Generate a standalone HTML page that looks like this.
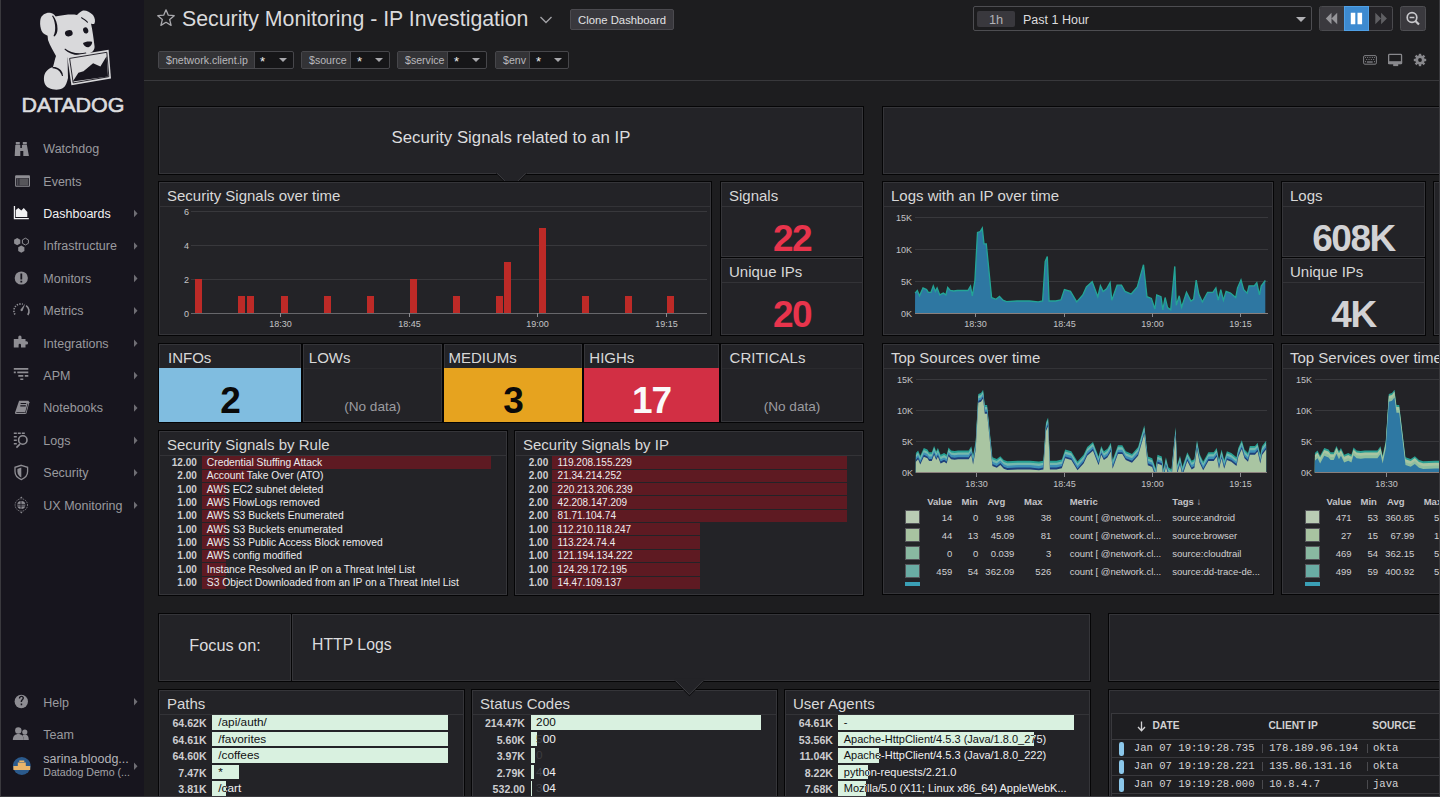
<!DOCTYPE html>
<html><head><meta charset="utf-8">
<style>
*{box-sizing:border-box;margin:0;padding:0}
html,body{width:1440px;height:797px;overflow:hidden;background:#1d1d1f;font-family:"Liberation Sans",sans-serif;color:#d4d4d4}
.a{position:absolute}
#side{position:absolute;left:0;top:0;width:144px;height:797px;background:#17151e;border-left:1px solid #3a393e}
.nav{position:absolute;left:42.3px;font-size:12.5px;line-height:1;color:#9a9a9e;white-space:nowrap}
.nav.on{color:#f2f2f2}
.arr{position:absolute;left:134px;width:0;height:0;border-left:4px solid #6f6e74;border-top:4px solid transparent;border-bottom:4px solid transparent}
.ico{position:absolute;left:14px;width:16px;height:16px}
.w{position:absolute;background:#232327;border:1px solid #050506;box-shadow:inset 0 0 0 1px #353539;overflow:hidden}
.t{position:absolute;left:8px;top:5.6px;font-size:15px;line-height:1;color:#d8d8d8;white-space:nowrap}
.sep{position:absolute;left:1px;right:1px;height:1px;background:#333337}
.hdrline{position:absolute;left:144px;top:80px;width:1296px;height:1px;background:#38383b}
.tv{position:absolute;top:51px;height:18px;border:1px solid #47474b;border-radius:2px;background:#161618;font-size:10.5px;white-space:nowrap}
.tv .l{position:absolute;left:0;top:0;bottom:0;background:#333336;font-size:10.6px;color:#b8b8bc;padding:0 7px;line-height:16px;border-right:1px solid #47474b}
.tv .v{position:absolute;top:2px;line-height:16px;font-size:13px;color:#f0f0f0}
.tv .c{position:absolute;top:6px;width:0;height:0;border-top:4px solid #a8a8ac;border-left:4px solid transparent;border-right:4px solid transparent}
.qv{position:absolute;left:0;right:0;text-align:center;font-size:37px;font-weight:bold;line-height:1;letter-spacing:-1.5px}
.fill{position:absolute;left:0;right:0;top:24px;bottom:0;text-align:center;font-size:37px;font-weight:bold;line-height:65px;letter-spacing:-1px}
.nod{position:absolute;left:0;right:0;top:56px;text-align:center;font-size:13.6px;line-height:1;color:#9c9ca0}
.lg{position:absolute;font-size:9.5px;line-height:1;color:#d0d0d2;white-space:nowrap}
.lg.b{font-weight:bold;color:#c4c4c8}
.tr{position:absolute;height:12.4px;background:#5e1a22}
.tvv{position:absolute;font-size:10px;font-weight:bold;line-height:1;color:#cfcfd2;white-space:nowrap}
.tl{position:absolute;font-size:10.3px;line-height:1;color:#ececee;white-space:nowrap}
.bb{position:absolute;height:14.6px;background:#d9f1e0;overflow:hidden}
.bv{position:absolute;font-size:10.6px;font-weight:bold;line-height:1;color:#cdcdd0;white-space:nowrap}
.bt{position:absolute;font-size:11.8px;line-height:1;color:#f0f0f2;white-space:nowrap}
.bt.k{color:#101012}
.lh{position:absolute;font-size:10.2px;font-weight:bold;line-height:1;color:#d2d2d4;white-space:nowrap}
.lm{position:absolute;font-family:"Liberation Mono",monospace;font-size:10.6px;line-height:1;color:#d4d4d6;white-space:nowrap}
</style></head>
<body>
<div id="side">
<svg class="a" style="left:0;top:0" width="144" height="797" viewBox="0 0 144 797">
 <g fill="#d9d9db">
  <!-- dog logo -->
  <path d="M46 28 C45 22 50 17 57 16 C63 15 70 14 76 15 C78 13 80 11 82 10.5 C85 10 89 12 92 15 C94 18 94.5 21 93.5 23.5 C92.5 24.5 91 24 90 23.5 C91.5 30 92.5 38 93.5 46 C94 49 92 52 89 53 L84 55 C80 56 75 57 71 57 L66.5 57.5 L67 78 C66 82 65 86 62 88 C58 90.5 52 90 48 88 C44 86 42.5 82 43 77 C43.5 73 46 69 52 67 C53 64 53.5 60 55 56 C53 52 49 46 47 40 C46.5 36 46.3 32 46 28 Z"/>
  <path d="M39.5 19 C41 14 46 12 50 13 C54 14 56 18 56.5 23 C57 28 56 33 53 35.5 C50 37 45 36 42 33 C39.5 30 38.5 24 39.5 19 Z"/>
 </g>
 <g fill="#17151e">
  <path d="M52 15.5 C55 19 56.5 24 56.5 29 C56.5 32 55.5 35 53.5 36.5 L52.5 36 C54 33 54.5 29 54 25 C53.5 21 52.5 18 51 16 Z"/>
  <path d="M80.5 17 C83 18.5 85 20 87 22 L86.5 23 C84.5 21 82.5 19.5 80 18 Z"/>
  <ellipse cx="67.8" cy="33.2" rx="3.9" ry="3.1" transform="rotate(-12 67.8 33.2)"/>
  <ellipse cx="84.7" cy="30.4" rx="2.5" ry="3.2" transform="rotate(-20 84.7 30.4)"/>
  <path d="M82 43 C84 41.5 88 41 91 41.8 C91.5 43.5 90 46.5 87.5 47.2 C85 47.5 82.5 45.5 82 43 Z"/>
  <path d="M64 48.5 C69 52.5 77 54.5 85 52.5 L85.5 53.8 C77 56.5 68.5 54.5 63.5 49.5 Z"/>
  <path d="M51.5 67 C56 66.5 60 69 61.5 73 L62 76 L61 76 C59.5 71.5 56.5 68.5 51.5 68.3 Z"/>
 </g>
 <g fill="#d9d9db">
  <path d="M66.2 56.6 L107.6 49.8 L110 78.6 L70.4 85.2 Z"/>
 </g>
 <path d="M68.6 58.4 L105.8 52.3 L107.8 76.7 L72.2 82.9 Z" fill="none" stroke="#17151e" stroke-width="0.9"/>
 <path d="M71.8 81.6 L77.4 72.8 L82.5 71.3 L92.1 63.2 L99.4 66.6 L105.6 56.2 L107 76.5 Z" fill="#17151e"/>
 <text x="72" y="112" text-anchor="middle" font-family="Liberation Sans" font-size="21" fill="#dcdcde" stroke="#dcdcde" stroke-width="0.6" textLength="103" lengthAdjust="spacingAndGlyphs">DATADOG</text>
 <g transform="translate(-1.2 0)">
<g fill="#8e8d93">
  <!-- binoculars -->
  <path d="M16 142 h4 v2.5 h-4z M23 142 h4 v2.5 h-4z M15.5 145 h5 v3 h1.6 v-3 h5 l2 11 h-5.6 v-5 h-3 v5 h-5.6z"/>
  <!-- events -->
  <rect x="15.3" y="175.3" width="14.9" height="11.4" rx="1"/>
  <rect x="16.4" y="178.2" width="12.8" height="7.5" fill="#17151e"/>
  <rect x="19.5" y="178.5" width="9.1" height="7" fill="#56555a"/>
  <rect x="17.5" y="178.5" width="1.1" height="7" fill="#6a696e"/>
  <!-- infra -->
  <path d="M17.4 238 l3.1 1.8 v3.6 l-3.1 1.8 l-3.1 -1.8 v-3.6z"/>
  <path d="M21.5 245.5 l3.1 1.8 v3.6 l-3.1 1.8 l-3.1 -1.8 v-3.6z"/>
  <path d="M25.6 238.2 l3 1.7 v3.4 l-3 1.7 l-3 -1.7 v-3.4z" fill="none" stroke="#8e8d93" stroke-width="1"/>
  <!-- monitors -->
  <circle cx="21.5" cy="278" r="6.6"/>
  <!-- integrations puzzle -->
  <path d="M14 339 h4.5 v-2 a1.6 1.6 0 0 1 3.2 0 v2 h4 v2.3 h1 a1.6 1.6 0 0 1 0 3.2 h-1 v3 h-4.5 v-2.5 a1.2 1.2 0 0 0 -2.4 0 v2.5 h-4.8z"/>
  <!-- apm -->
  <path d="M14 368 h14.5 v1.8 h-14.5z M14 371.5 h2 v1.8 h-2z M17.5 371.5 h11 v1.8 h-11z M18.5 375 h5 v1.8 h-5z M25 375 h3.5 v1.8 h-3.5z M20.5 378.5 h3 v1.6 h-3z"/>
  <!-- notebooks -->
  <path d="M19.3 400.8 h9.3 l1 1.5 l-3 11.2 l-0.8 0.6 h-10 l-0.7 -1.2z"/>
  <path d="M20.8 403 h5.6 v0.9 h-5.6z M20.5 405.2 h5.5 v1.2 h-5.5z M16.7 412.2 h8.5 l-0.3 0.9 h-8.5z M27.8 403.5 l0.6 0.2 l-2.6 9.6 l-0.6 -0.2z" fill="#17151e"/>
  <!-- logs -->
  <path d="M14 432.5 h3 v1.5 h-3z M18 432.5 h3 v1.5 h-3z M22 432.5 h3 v1.5 h-3z M14 436 h3 v1.5 h-3z M14 439.5 h3 v1.5 h-3z M14 443 h3 v1.5 h-3z"/>
  <circle cx="23" cy="440" r="4.2" fill="none" stroke="#8e8d93" stroke-width="1.6"/>
  <path d="M19.5 443.5 l1.2 1.2 l-3.5 3.5 l-1.2 -1.2z"/>
  <!-- security shield -->
  <path d="M21.5 465.3 l6.3 2 v4.3 c0 3.9 -2.8 6.6 -6.3 8 c-3.5 -1.4 -6.3 -4.1 -6.3 -8 v-4.3z" fill="none" stroke="#8e8d93" stroke-width="1.3"/>
  <path d="M21.5 467.6 v10 c-2.3 -1.2 -3.9 -3.3 -3.9 -6 v-2.6z"/>
  <!-- ux -->
  <circle cx="21.5" cy="505" r="4" />
  <path d="M17.5 504.4 h8 M17.5 506 h8 M21.2 501 v8" stroke="#17151e" stroke-width="0.8"/>
  <circle cx="21.5" cy="505" r="6.2" fill="none" stroke="#8e8d93" stroke-width="1" stroke-dasharray="1.2 1.1"/>
  <path d="M20.3 498 l1.2 -1.5 l1.2 1.5z M20.3 512 l1.2 1.5 l1.2 -1.5z"/>
  <!-- help -->
  <circle cx="21.5" cy="701.5" r="6.7"/>
  <!-- team -->
  <circle cx="18.5" cy="730.5" r="3.2"/>
  <path d="M13 740 c0 -4 2.5 -6 5.5 -6 s5.5 2 5.5 6z"/>
  <circle cx="25" cy="732" r="2.6"/>
  <path d="M24 740 c0 -2 -0.5 -3.6 -1.5 -4.6 c0.8 -0.6 1.6 -0.9 2.5 -0.9 c2.4 0 4 1.6 4 5.5z"/>
 </g>
 <g fill="#f0f0f2">
  <path d="M14 206 h1.3 v12 h13.7 v1.3 h-15z M16 217 v-7 l2.5 -2 l3 2.5 l2.5 -2.5 l3.5 4 v5z"/>
 </g>
 <g fill="#17151e">
  <path d="M20.6 273.5 h1.8 v6 h-1.8z M20.6 280.8 h1.8 v1.8 h-1.8z"/>
  <path d="M19 698.5 c0 -1.8 1.2 -2.8 2.6 -2.8 c1.6 0 2.6 1 2.6 2.4 c0 1.8 -2 2 -2 3.8 h-1.4 c0 -2.4 2 -2.6 2 -3.8 c0 -0.7 -0.5 -1.2 -1.2 -1.2 c-0.8 0 -1.2 0.6 -1.2 1.6z M20.9 703.6 h1.5 v1.6 h-1.5z"/>
 </g>
 <!-- metrics gauge -->
 <path d="M15.2 314.5 A6.8 6.8 0 0 1 23 304.3" fill="none" stroke="#8e8d93" stroke-width="1.6" stroke-dasharray="1.4 1.2"/>
 <path d="M26.3 305.6 A6.8 6.8 0 0 1 28 315" fill="none" stroke="#8e8d93" stroke-width="1.6"/>
 <path d="M25.5 303.5 L22.8 310.8 A1.3 1.3 0 0 1 20.6 309.8z" fill="#8e8d93"/>
 <!-- avatar -->
 <circle cx="22" cy="766" r="8.9" fill="#2b5a8c"/>
 <path d="M13.6 766 h16.8 v4 h-16.8z" fill="#e9b56a"/>
 <path d="M19.5 760.5 h5 v1.5 h-5z M18 762.5 h8 v3.5 h-8z" fill="#e9b56a"/>
 </g>
 <!-- arrows -->
 <g fill="#6f6e74">
  <path d="M133 209.7 l3.5 3.8 l-3.5 3.8z"/>
  <path d="M133 242.2 l3.5 3.8 l-3.5 3.8z"/>
  <path d="M133 274.6 l3.5 3.8 l-3.5 3.8z"/>
  <path d="M133 307 l3.5 3.8 l-3.5 3.8z"/>
  <path d="M133 339.4 l3.5 3.8 l-3.5 3.8z"/>
  <path d="M133 371.8 l3.5 3.8 l-3.5 3.8z"/>
  <path d="M133 404.2 l3.5 3.8 l-3.5 3.8z"/>
  <path d="M133 436.6 l3.5 3.8 l-3.5 3.8z"/>
  <path d="M133 469 l3.5 3.8 l-3.5 3.8z"/>
  <path d="M133 501.4 l3.5 3.8 l-3.5 3.8z"/>
  <path d="M133 698 l3.5 3.8 l-3.5 3.8z"/>
  <path d="M133 762.5 l3.5 3.8 l-3.5 3.8z"/>
 </g>
</svg>
<div class="nav" style="top:143px">Watchdog</div>
<div class="nav" style="top:175.5px">Events</div>
<div class="nav on" style="top:207.5px">Dashboards</div>
<div class="nav" style="top:240px">Infrastructure</div>
<div class="nav" style="top:272.5px">Monitors</div>
<div class="nav" style="top:305px">Metrics</div>
<div class="nav" style="top:337.5px">Integrations</div>
<div class="nav" style="top:370px">APM</div>
<div class="nav" style="top:402px">Notebooks</div>
<div class="nav" style="top:434.5px">Logs</div>
<div class="nav" style="top:467px">Security</div>
<div class="nav" style="top:499.5px">UX Monitoring</div>
<div class="nav" style="top:697px">Help</div>
<div class="nav" style="top:728.5px">Team</div>
<div class="nav" style="top:753px;color:#b4b4b8">sarina.bloodg...</div>
<div class="nav" style="top:766.5px;font-size:10.6px;color:#a4a4a8">Datadog Demo (...</div>
</div>

<div class="hdrline"></div>
<!-- header -->
<svg class="a" style="left:156px;top:8px" width="20" height="20" viewBox="0 0 20 20"><path d="M10 1.8 L12.3 7.2 L18.2 7.7 L13.7 11.6 L15.1 17.4 L10 14.3 L4.9 17.4 L6.3 11.6 L1.8 7.7 L7.7 7.2 Z" fill="none" stroke="#a9a9ad" stroke-width="1.3" stroke-linejoin="round"/></svg>
<div class="a" style="left:182px;top:8.5px;font-size:21.3px;line-height:1;color:#dadadc;white-space:nowrap">Security Monitoring - IP Investigation</div>
<svg class="a" style="left:539px;top:15px" width="14" height="10" viewBox="0 0 14 10"><path d="M1.5 2 L7 7.5 L12.5 2" fill="none" stroke="#a0a0a4" stroke-width="1.4"/></svg>
<div class="a" style="left:570px;top:9px;width:104px;height:21px;background:#39383d;border:1px solid #4b4a4f;border-radius:2px;font-size:11.3px;line-height:21px;text-align:center;color:#e2e2e4">Clone Dashboard</div>
<div class="tv" style="left:158px;width:136px"><div class="l" style="width:96px">$network.client.ip</div><div class="v" style="left:101px">*</div><div class="c" style="left:120px"></div></div>
<div class="tv" style="left:301px;width:89px"><div class="l" style="width:49px">$source</div><div class="v" style="left:55px">*</div><div class="c" style="left:73px"></div></div>
<div class="tv" style="left:397px;width:90px"><div class="l" style="width:50px">$service</div><div class="v" style="left:56px">*</div><div class="c" style="left:74px"></div></div>
<div class="tv" style="left:495px;width:74px"><div class="l" style="width:34px">$env</div><div class="v" style="left:40px">*</div><div class="c" style="left:58px"></div></div>
<!-- time selector -->
<div class="a" style="left:973px;top:6px;width:339px;height:25px;border:1px solid #4d4d51;border-radius:2px;background:#1c1c1e"></div>
<div class="a" style="left:977px;top:10.5px;width:38px;height:16.5px;background:#39383d;border-radius:2px;font-size:12.8px;line-height:17px;text-align:center;color:#b2b2b6">1h</div>
<div class="a" style="left:1023px;top:14px;font-size:12.5px;line-height:1;color:#dcdcde;white-space:nowrap">Past 1 Hour</div>
<div class="a" style="left:1296px;top:17px;width:0;height:0;border-top:5px solid #b0b0b4;border-left:5px solid transparent;border-right:5px solid transparent"></div>
<div class="a" style="left:1319px;top:6px;width:74px;height:25px;border:1px solid #4a4a4e;border-radius:2.5px;background:#242327;overflow:hidden"><div class="a" style="left:0;top:0;width:24px;height:23px;background:#3a393e"></div></div>
<div class="a" style="left:1344px;top:6px;width:25px;height:25px;background:#3d8ad0;border:1px solid #4fa0e6"></div>
<svg class="a" style="left:1319px;top:6px" width="74" height="25" viewBox="0 0 74 25">
 <path d="M6.8 12.5 L12.5 6.8 V18.2z M12.5 12.5 L18.2 6.8 V18.2z" fill="#959599"/>
 <path d="M31.8 6.8 h4.5 v11.4 h-4.5z M38.5 6.8 h4.6 v11.4 h-4.6z" fill="#ffffff"/>
 <path d="M56.3 6.8 L62.1 12.5 L56.3 18.2z M62.1 6.8 L67.9 12.5 L62.1 18.2z" fill="#5f5f63"/>
</svg>
<div class="a" style="left:1400px;top:6px;width:26px;height:25px;border:1px solid #4e4e52;border-radius:2.5px;background:#3a393e"></div>
<svg class="a" style="left:1400px;top:6px" width="26" height="25" viewBox="0 0 26 25"><circle cx="12" cy="11.5" r="4.8" fill="none" stroke="#c8c8cc" stroke-width="1.7"/><path d="M9.6 11.5 h4.8" stroke="#c8c8cc" stroke-width="1.5"/><path d="M15.5 15 l3.5 3.5" stroke="#c8c8cc" stroke-width="2.2"/></svg>
<svg class="a" style="left:1360px;top:50px" width="70" height="20" viewBox="0 0 70 20">
 <rect x="3.6" y="5.6" width="12.8" height="8.6" rx="1.3" fill="none" stroke="#7f7f83" stroke-width="1"/>
 <g fill="#6f6f73"><rect x="5" y="7" width="1" height="1"/><rect x="7" y="7" width="1.2" height="1"/><rect x="9.4" y="7" width="1.2" height="1"/><rect x="11.8" y="7" width="1.2" height="1"/><rect x="14" y="7" width="1" height="1"/>
 <rect x="6" y="9" width="1.2" height="1"/><rect x="8.4" y="9" width="1.2" height="1"/><rect x="10.8" y="9" width="1.2" height="1"/><rect x="13" y="9" width="1.2" height="1"/>
 <rect x="5" y="11" width="1" height="1.2"/><rect x="14" y="11" width="1" height="1.2"/><rect x="6.9" y="11.2" width="5.8" height="1.6"/></g>
 <rect x="28.65" y="4.45" width="12.9" height="9.2" rx="0.8" fill="none" stroke="#88888c" stroke-width="1.3"/>
 <rect x="28" y="11.2" width="14.1" height="2.9" fill="#88888c"/>
 <rect x="33.2" y="14" width="5" height="2.1" fill="#88888c"/>
 <g transform="translate(60 10)" fill="#88888c"><circle r="4.7"/><rect x="-1.2" y="-6.2" width="2.4" height="3" transform="rotate(0)"/><rect x="-1.2" y="-6.2" width="2.4" height="3" transform="rotate(45)"/><rect x="-1.2" y="-6.2" width="2.4" height="3" transform="rotate(90)"/><rect x="-1.2" y="-6.2" width="2.4" height="3" transform="rotate(135)"/><rect x="-1.2" y="-6.2" width="2.4" height="3" transform="rotate(180)"/><rect x="-1.2" y="-6.2" width="2.4" height="3" transform="rotate(225)"/><rect x="-1.2" y="-6.2" width="2.4" height="3" transform="rotate(270)"/><rect x="-1.2" y="-6.2" width="2.4" height="3" transform="rotate(315)"/><circle r="1.9" fill="#1d1d1f"/></g>
</svg>

<!-- ROW 1 notes -->
<div class="w" style="left:158px;top:106px;width:706px;height:69px"><div class="a" style="left:0;right:0;top:23px;text-align:center;font-size:16.8px;line-height:1;color:#dcdcde">Security Signals related to an IP</div></div>
<div class="w" style="left:882px;top:106px;width:600px;height:69px"></div>
<svg class="a" style="left:490px;top:165px" width="45" height="30" viewBox="0 0 45 30"><path d="M6.7 8.2 L21.45 23 L36.2 8.2" fill="none" stroke="#0d0d0f" stroke-width="1.8"/><path d="M6.2 6 L36.7 6 L36.7 8.2 L21.45 23.2 L6.2 8.2z" fill="#232327"/><path d="M7.2 8.2 L21.45 22.5 L35.7 8.2" fill="none" stroke="#3a3a3e" stroke-width="1"/></svg>
<!-- Security Signals over time -->
<div class="w" style="left:158px;top:181px;width:554px;height:155px"><div class="t">Security Signals over time</div><div class="sep" style="top:24px"></div></div>
<div class="w" style="left:720px;top:181px;width:144px;height:77px"><div class="t">Signals</div><div class="sep" style="top:24px"></div><div class="qv" style="top:38px;color:#e8344c">22</div></div>
<div class="w" style="left:720px;top:257px;width:144px;height:79px"><div class="t">Unique IPs</div><div class="sep" style="top:24px"></div><div class="qv" style="top:38px;color:#e8344c">20</div></div>
<!-- severity row -->
<div class="w" style="left:158px;top:343px;width:144px;height:80px"><div class="t" style="left:9px">INFOs</div><div class="fill" style="background:#80bde0;color:#0a0a0a">2</div></div>
<div class="w" style="left:302px;top:343px;width:141px;height:80px"><div class="t" style="left:5.8px">LOWs</div><div class="sep" style="top:24px;background:#2a2a2e"></div><div class="nod">(No data)</div></div>
<div class="w" style="left:443px;top:343px;width:140px;height:80px"><div class="t" style="left:4.4px">MEDIUMs</div><div class="fill" style="background:#e6a31f;color:#0a0a0a">3</div></div>
<div class="w" style="left:583px;top:343px;width:137px;height:80px"><div class="t" style="left:5.3px">HIGHs</div><div class="fill" style="background:#d22f44;color:#fafafa">17</div></div>
<div class="w" style="left:720px;top:343px;width:144px;height:80px"><div class="t" style="left:8.6px">CRITICALs</div><div class="sep" style="top:24px;background:#2a2a2e"></div><div class="nod">(No data)</div></div>
<!-- toplists -->
<div class="w" style="left:158px;top:430px;width:350px;height:166px" id="rule"><div class="t">Security Signals by Rule</div><div class="sep" style="top:24px"></div></div>
<div class="w" style="left:514px;top:430px;width:350px;height:166px" id="ip"><div class="t">Security Signals by IP</div><div class="sep" style="top:24px"></div></div>
<!-- right column -->
<div class="w" style="left:882px;top:181px;width:392px;height:155px"><div class="t">Logs with an IP over time</div><div class="sep" style="top:24px"></div></div>
<div class="w" style="left:1281px;top:181px;width:145px;height:77px"><div class="t">Logs</div><div class="sep" style="top:24px"></div><div class="qv" style="top:38px;color:#d2d2d4">608K</div></div>
<div class="w" style="left:1281px;top:257px;width:145px;height:79px"><div class="t">Unique IPs</div><div class="sep" style="top:24px"></div><div class="qv" style="top:38px;color:#d2d2d4">4K</div></div>
<div class="w" style="left:1433px;top:181px;width:60px;height:155px"></div>
<div class="w" style="left:882px;top:343px;width:392px;height:252px"><div class="t">Top Sources over time</div><div class="sep" style="top:24px"></div></div>
<div class="w" style="left:1281px;top:343px;width:300px;height:252px"><div class="t">Top Services over time</div><div class="sep" style="top:24px"></div></div>
<!-- Row 5 -->
<div class="w" style="left:158px;top:613px;width:134px;height:69px"><div class="a" style="left:0;right:0;top:22.8px;text-align:center;font-size:16.3px;line-height:1;color:#dcdcde">Focus on:</div></div>
<div class="w" style="left:291px;top:613px;width:800px;height:69px"><div class="a" style="left:20px;top:22.8px;font-size:15.8px;line-height:1;color:#dcdcde">HTTP Logs</div></div>
<div class="w" style="left:1108px;top:613px;width:340px;height:69px"></div>

<div class="w" style="left:158px;top:689px;width:307px;height:130px" id="paths"><div class="t">Paths</div><div class="sep" style="top:24px"></div></div>
<div class="w" style="left:471px;top:689px;width:307px;height:130px" id="codes"><div class="t">Status Codes</div><div class="sep" style="top:24px"></div></div>
<svg class="a" style="left:670px;top:672px" width="40" height="30" viewBox="0 0 40 30"><path d="M5.1 8.6 L19.4 22.9 L33.7 8.6" fill="none" stroke="#0d0d0f" stroke-width="1.8"/><path d="M4.6 6.5 L34.2 6.5 L34.2 8.6 L19.4 23.2 L4.6 8.6z" fill="#232327"/><path d="M5.6 8.6 L19.4 22.4 L33.2 8.6" fill="none" stroke="#3a3a3e" stroke-width="1"/></svg>
<div class="w" style="left:784px;top:689px;width:307px;height:130px" id="ua"><div class="t">User Agents</div><div class="sep" style="top:24px"></div></div>
<div class="w" style="left:1108px;top:689px;width:340px;height:130px" id="logs"></div>

<!--TOPLISTS-->
<div class="tr" style="left:202px;top:456.2px;width:289.0px"></div>
<div class="tvv" style="right:1243.2px;top:457.8px">12.00</div>
<div class="tl" style="left:206.8px;top:457.8px">Credential Stuffing Attack</div>
<div class="tr" style="left:202px;top:469.6px;width:48.2px"></div>
<div class="tvv" style="right:1243.2px;top:471.2px">2.00</div>
<div class="tl" style="left:206.8px;top:471.2px">Account Take Over (ATO)</div>
<div class="tr" style="left:202px;top:482.9px;width:24.1px"></div>
<div class="tvv" style="right:1243.2px;top:484.5px">1.00</div>
<div class="tl" style="left:206.8px;top:484.5px">AWS EC2 subnet deleted</div>
<div class="tr" style="left:202px;top:496.3px;width:24.1px"></div>
<div class="tvv" style="right:1243.2px;top:497.9px">1.00</div>
<div class="tl" style="left:206.8px;top:497.9px">AWS FlowLogs removed</div>
<div class="tr" style="left:202px;top:509.7px;width:24.1px"></div>
<div class="tvv" style="right:1243.2px;top:511.3px">1.00</div>
<div class="tl" style="left:206.8px;top:511.3px">AWS S3 Buckets Enumerated</div>
<div class="tr" style="left:202px;top:523.0px;width:24.1px"></div>
<div class="tvv" style="right:1243.2px;top:524.6px">1.00</div>
<div class="tl" style="left:206.8px;top:524.6px">AWS S3 Buckets enumerated</div>
<div class="tr" style="left:202px;top:536.4px;width:24.1px"></div>
<div class="tvv" style="right:1243.2px;top:538.0px">1.00</div>
<div class="tl" style="left:206.8px;top:538.0px">AWS S3 Public Access Block removed</div>
<div class="tr" style="left:202px;top:549.8px;width:24.1px"></div>
<div class="tvv" style="right:1243.2px;top:551.4px">1.00</div>
<div class="tl" style="left:206.8px;top:551.4px">AWS config modified</div>
<div class="tr" style="left:202px;top:563.2px;width:24.1px"></div>
<div class="tvv" style="right:1243.2px;top:564.8px">1.00</div>
<div class="tl" style="left:206.8px;top:564.8px">Instance Resolved an IP on a Threat Intel List</div>
<div class="tr" style="left:202px;top:576.5px;width:24.1px"></div>
<div class="tvv" style="right:1243.2px;top:578.1px">1.00</div>
<div class="tl" style="left:206.8px;top:578.1px">S3 Object Downloaded from an IP on a Threat Intel List</div>
<div class="tr" style="left:552px;top:456.2px;width:295.2px"></div>
<div class="tvv" style="right:891.8px;top:457.8px">2.00</div>
<div class="tl" style="left:557.6px;top:457.8px;font-size:10px">119.208.155.229</div>
<div class="tr" style="left:552px;top:469.6px;width:295.2px"></div>
<div class="tvv" style="right:891.8px;top:471.2px">2.00</div>
<div class="tl" style="left:557.6px;top:471.2px;font-size:10px">21.34.214.252</div>
<div class="tr" style="left:552px;top:482.9px;width:295.2px"></div>
<div class="tvv" style="right:891.8px;top:484.5px">2.00</div>
<div class="tl" style="left:557.6px;top:484.5px;font-size:10px">220.213.206.239</div>
<div class="tr" style="left:552px;top:496.3px;width:295.2px"></div>
<div class="tvv" style="right:891.8px;top:497.9px">2.00</div>
<div class="tl" style="left:557.6px;top:497.9px;font-size:10px">42.208.147.209</div>
<div class="tr" style="left:552px;top:509.7px;width:295.2px"></div>
<div class="tvv" style="right:891.8px;top:511.3px">2.00</div>
<div class="tl" style="left:557.6px;top:511.3px;font-size:10px">81.71.104.74</div>
<div class="tr" style="left:552px;top:523.0px;width:147.6px"></div>
<div class="tvv" style="right:891.8px;top:524.6px">1.00</div>
<div class="tl" style="left:557.6px;top:524.6px;font-size:10px">112.210.118.247</div>
<div class="tr" style="left:552px;top:536.4px;width:147.6px"></div>
<div class="tvv" style="right:891.8px;top:538.0px">1.00</div>
<div class="tl" style="left:557.6px;top:538.0px;font-size:10px">113.224.74.4</div>
<div class="tr" style="left:552px;top:549.8px;width:147.6px"></div>
<div class="tvv" style="right:891.8px;top:551.4px">1.00</div>
<div class="tl" style="left:557.6px;top:551.4px;font-size:10px">121.194.134.222</div>
<div class="tr" style="left:552px;top:563.2px;width:147.6px"></div>
<div class="tvv" style="right:891.8px;top:564.8px">1.00</div>
<div class="tl" style="left:557.6px;top:564.8px;font-size:10px">124.29.172.195</div>
<div class="tr" style="left:552px;top:576.5px;width:147.6px"></div>
<div class="tvv" style="right:891.8px;top:578.1px">1.00</div>
<div class="tl" style="left:557.6px;top:578.1px;font-size:10px">14.47.109.137</div>
<div class="bv" style="right:1233.4px;top:718.2px">64.62K</div>
<div class="bt" style="left:218.3px;top:717.2px">/api/auth/</div>
<div class="bb" style="left:212.1px;top:715.0px;width:235.8px"><div class="bt k" style="left:6.2px;top:2.2px">/api/auth/</div></div>
<div class="bv" style="right:1233.4px;top:734.9px">64.61K</div>
<div class="bt" style="left:218.3px;top:733.9px">/favorites</div>
<div class="bb" style="left:212.1px;top:731.7px;width:235.8px"><div class="bt k" style="left:6.2px;top:2.2px">/favorites</div></div>
<div class="bv" style="right:1233.4px;top:751.4px">64.60K</div>
<div class="bt" style="left:218.3px;top:750.4px">/coffees</div>
<div class="bb" style="left:212.1px;top:748.2px;width:235.7px"><div class="bt k" style="left:6.2px;top:2.2px">/coffees</div></div>
<div class="bv" style="right:1233.4px;top:768.0px">7.47K</div>
<div class="bt" style="left:218.3px;top:767.0px">*</div>
<div class="bb" style="left:212.1px;top:764.8px;width:27.3px"><div class="bt k" style="left:6.2px;top:2.2px">*</div></div>
<div class="bv" style="right:1233.4px;top:784.4px">3.81K</div>
<div class="bt" style="left:218.3px;top:783.4px">/cart</div>
<div class="bb" style="left:212.1px;top:781.2px;width:13.9px"><div class="bt k" style="left:6.2px;top:2.2px">/cart</div></div>
<div class="bv" style="right:915.0px;top:718.2px">214.47K</div>
<div class="bt" style="left:536.1px;top:717.2px">200</div>
<div class="bb" style="left:531px;top:715.0px;width:230.2px"><div class="bt k" style="left:5.1px;top:2.2px">200</div></div>
<div class="bv" style="right:915.0px;top:734.9px">5.60K</div>
<div class="bt" style="left:536.1px;top:733.9px"><span style="color:#3c3c40">5</span>00</div>
<div class="bb" style="left:531px;top:731.7px;width:6.0px"><div class="bt k" style="left:5.1px;top:2.2px">500</div></div>
<div class="bv" style="right:915.0px;top:751.4px">3.97K</div>
<div class="bt" style="left:536.1px;top:750.4px"><span style="color:#3c3c40">0</span></div>
<div class="bb" style="left:531px;top:748.2px;width:4.3px"><div class="bt k" style="left:5.1px;top:2.2px">0</div></div>
<div class="bv" style="right:915.0px;top:768.0px">2.79K</div>
<div class="bt" style="left:536.1px;top:767.0px"><span style="color:#3c3c40">4</span>04</div>
<div class="bb" style="left:531px;top:764.8px;width:3.0px"><div class="bt k" style="left:5.1px;top:2.2px">404</div></div>
<div class="bv" style="right:915.0px;top:784.4px">532.00</div>
<div class="bt" style="left:536.1px;top:783.4px"><span style="color:#3c3c40">3</span>04</div>
<div class="bb" style="left:531px;top:781.2px;width:1.0px"><div class="bt k" style="left:5.1px;top:2.2px">304</div></div>
<div class="bv" style="right:607.0px;top:718.2px">64.61K</div>
<div class="bt" style="font-size:11px;left:843.8px;top:717.2px">-</div>
<div class="bb" style="left:838.2px;top:715.0px;width:236.3px"><div class="bt k" style="font-size:11px;left:5.6px;top:2.2px">-</div></div>
<div class="bv" style="right:607.0px;top:734.9px">53.56K</div>
<div class="bt" style="font-size:11px;left:843.8px;top:733.9px">Apache-HttpClient/4.5.3 (Java/1.8.0_275)</div>
<div class="bb" style="left:838.2px;top:731.7px;width:195.9px"><div class="bt k" style="font-size:11px;left:5.6px;top:2.2px">Apache-HttpClient/4.5.3 (Java/1.8.0_275)</div></div>
<div class="bv" style="right:607.0px;top:751.4px">11.04K</div>
<div class="bt" style="font-size:11px;left:843.8px;top:750.4px">Apache-HttpClient/4.5.3 (Java/1.8.0_222)</div>
<div class="bb" style="left:838.2px;top:748.2px;width:40.4px"><div class="bt k" style="font-size:11px;left:5.6px;top:2.2px">Apache-HttpClient/4.5.3 (Java/1.8.0_222)</div></div>
<div class="bv" style="right:607.0px;top:768.0px">8.22K</div>
<div class="bt" style="font-size:11px;left:843.8px;top:767.0px">python-requests/2.21.0</div>
<div class="bb" style="left:838.2px;top:764.8px;width:30.1px"><div class="bt k" style="font-size:11px;left:5.6px;top:2.2px">python-requests/2.21.0</div></div>
<div class="bv" style="right:607.0px;top:784.4px">7.68K</div>
<div class="bt" style="font-size:11px;left:843.8px;top:783.4px">Mozilla/5.0 (X11; Linux x86_64) AppleWebK...</div>
<div class="bb" style="left:838.2px;top:781.2px;width:28.1px"><div class="bt k" style="font-size:11px;left:5.6px;top:2.2px">Mozilla/5.0 (X11; Linux x86_64) AppleWebK...</div></div>
<div class="a" style="left:1111px;top:713px;width:340px;height:90px;background:#1e1e21;border:1px solid #39393d"></div>
<div class="a" style="left:1112px;top:739px;width:330px;height:1px;background:#39393d"></div>
<div class="a" style="left:1112px;top:757px;width:330px;height:1px;background:#38383c"></div>
<div class="a" style="left:1112px;top:775px;width:330px;height:1px;background:#38383c"></div>
<div class="a" style="left:1112px;top:793px;width:330px;height:1px;background:#38383c"></div>
<svg class="a" style="left:1137px;top:721px" width="9" height="11" viewBox="0 0 9 11"><path d="M4.5 0.5 V9.5 M1 6 L4.5 9.7 L8 6" fill="none" stroke="#d2d2d4" stroke-width="1.3"/></svg>
<div class="lh" style="left:1152.5px;top:721.4px">DATE</div>
<div class="lh" style="left:1268.5px;top:721.4px">CLIENT IP</div>
<div class="lh" style="left:1372.3px;top:721.4px">SOURCE</div>
<div class="a" style="left:1119.4px;top:742.3px;width:4.4px;height:13.3px;border-radius:2.2px;background:#8bc7ea"></div>
<div class="lm" style="left:1133.8px;top:742.8px">Jan 07 19:19:28.735</div>
<div class="lm" style="left:1269.2px;top:742.8px">178.189.96.194</div>
<div class="lm" style="left:1373px;top:742.8px">okta</div>
<div class="a" style="left:1262px;top:743.5px;width:1px;height:9.5px;background:#4a4a4e"></div>
<div class="a" style="left:1366.5px;top:743.5px;width:1px;height:9.5px;background:#4a4a4e"></div>
<div class="a" style="left:1119.4px;top:760.3px;width:4.4px;height:13.3px;border-radius:2.2px;background:#8bc7ea"></div>
<div class="lm" style="left:1133.8px;top:760.8px">Jan 07 19:19:28.221</div>
<div class="lm" style="left:1269.2px;top:760.8px">135.86.131.16</div>
<div class="lm" style="left:1373px;top:760.8px">okta</div>
<div class="a" style="left:1262px;top:761.5px;width:1px;height:9.5px;background:#4a4a4e"></div>
<div class="a" style="left:1366.5px;top:761.5px;width:1px;height:9.5px;background:#4a4a4e"></div>
<div class="a" style="left:1119.4px;top:778.3px;width:4.4px;height:13.3px;border-radius:2.2px;background:#8bc7ea"></div>
<div class="lm" style="left:1133.8px;top:778.8px">Jan 07 19:19:28.000</div>
<div class="lm" style="left:1269.2px;top:778.8px">10.8.4.7</div>
<div class="lm" style="left:1373px;top:778.8px">java</div>
<div class="a" style="left:1262px;top:779.5px;width:1px;height:9.5px;background:#4a4a4e"></div>
<div class="a" style="left:1366.5px;top:779.5px;width:1px;height:9.5px;background:#4a4a4e"></div>
<div class="a" style="left:1119.4px;top:796px;width:4.4px;height:3px;background:#8bc7ea"></div>
<!--/TOPLISTS-->
<!--LEGEND-->
<div class="lg b" style="left:927.2px;top:497.3px">Value</div>
<div class="lg b" style="left:961.5px;top:497.3px">Min</div>
<div class="lg b" style="left:987.6px;top:497.3px">Avg</div>
<div class="lg b" style="left:1024px;top:497.3px">Max</div>
<div class="lg b" style="left:1069.7px;top:497.3px">Metric</div>
<div class="lg b" style="left:1172.3px;top:497.3px">Tags &#8595;</div>
<div class="lg" style="right:487.8px;top:513.4px">14</div>
<div class="lg" style="right:461.7px;top:513.4px">0</div>
<div class="lg" style="right:425.6px;top:513.4px">9.98</div>
<div class="lg" style="right:388.8px;top:513.4px">38</div>
<div class="lg" style="left:1069.7px;top:513.4px">count [ @network.cl...</div>
<div class="lg" style="left:1172.3px;top:513.4px">source:android</div>
<div class="lg" style="right:487.8px;top:531.4px">44</div>
<div class="lg" style="right:461.7px;top:531.4px">13</div>
<div class="lg" style="right:425.6px;top:531.4px">45.09</div>
<div class="lg" style="right:388.8px;top:531.4px">81</div>
<div class="lg" style="left:1069.7px;top:531.4px">count [ @network.cl...</div>
<div class="lg" style="left:1172.3px;top:531.4px">source:browser</div>
<div class="lg" style="right:487.8px;top:549.4px">0</div>
<div class="lg" style="right:461.7px;top:549.4px">0</div>
<div class="lg" style="right:425.6px;top:549.4px">0.039</div>
<div class="lg" style="right:388.8px;top:549.4px">3</div>
<div class="lg" style="left:1069.7px;top:549.4px">count [ @network.cl...</div>
<div class="lg" style="left:1172.3px;top:549.4px">source:cloudtrail</div>
<div class="lg" style="right:487.8px;top:567.4px">459</div>
<div class="lg" style="right:461.7px;top:567.4px">54</div>
<div class="lg" style="right:425.6px;top:567.4px">362.09</div>
<div class="lg" style="right:388.8px;top:567.4px">526</div>
<div class="lg" style="left:1069.7px;top:567.4px">count [ @network.cl...</div>
<div class="lg" style="left:1172.3px;top:567.4px">source:dd-trace-de...</div>
<div class="a" style="left:905px;top:510.4px;width:15px;height:14px;background:#b9cbb4;border:1px solid #55555a"></div>
<div class="a" style="left:905px;top:528.4px;width:15px;height:14px;background:#a8c3a1;border:1px solid #55555a"></div>
<div class="a" style="left:905px;top:546.4px;width:15px;height:14px;background:#89b8a1;border:1px solid #55555a"></div>
<div class="a" style="left:905px;top:564.4px;width:15px;height:14px;background:#6aaca4;border:1px solid #55555a"></div>
<div class="a" style="left:905px;top:582.4px;width:15px;height:3.5px;background:#3aa0b6"></div>
<div class="lg b" style="left:1326.5px;top:497.3px">Value</div>
<div class="lg b" style="left:1360.5px;top:497.3px">Min</div>
<div class="lg b" style="left:1387px;top:497.3px">Avg</div>
<div class="lg b" style="left:1423.7px;top:497.3px">Max</div>
<div class="lg" style="right:88.4px;top:513.4px">471</div>
<div class="lg" style="right:62.0px;top:513.4px">53</div>
<div class="lg" style="right:25.8px;top:513.4px">360.85</div>
<div class="lg" style="left:1434px;top:513.4px">5</div>
<div class="lg" style="right:88.4px;top:531.4px">27</div>
<div class="lg" style="right:62.0px;top:531.4px">15</div>
<div class="lg" style="right:25.8px;top:531.4px">67.99</div>
<div class="lg" style="left:1434px;top:531.4px">1</div>
<div class="lg" style="right:88.4px;top:549.4px">469</div>
<div class="lg" style="right:62.0px;top:549.4px">54</div>
<div class="lg" style="right:25.8px;top:549.4px">362.15</div>
<div class="lg" style="left:1434px;top:549.4px">5</div>
<div class="lg" style="right:88.4px;top:567.4px">499</div>
<div class="lg" style="right:62.0px;top:567.4px">59</div>
<div class="lg" style="right:25.8px;top:567.4px">400.92</div>
<div class="lg" style="left:1434px;top:567.4px">5</div>
<div class="a" style="left:1305px;top:510.4px;width:14.5px;height:14px;background:#b9cbb4;border:1px solid #55555a"></div>
<div class="a" style="left:1305px;top:528.4px;width:14.5px;height:14px;background:#a8c3a1;border:1px solid #55555a"></div>
<div class="a" style="left:1305px;top:546.4px;width:14.5px;height:14px;background:#89b8a1;border:1px solid #55555a"></div>
<div class="a" style="left:1305px;top:564.4px;width:14.5px;height:14px;background:#6aaca4;border:1px solid #55555a"></div>
<div class="a" style="left:1305px;top:582.4px;width:14.5px;height:3.5px;background:#3aa0b6"></div>
<!--/LEGEND-->
<!--CHARTS-->
<svg class="a" style="left:0;top:0;pointer-events:none" width="1440" height="797" viewBox="0 0 1440 797" font-family="Liberation Sans">
<defs>
 <path id="lp" d="M0.1 -20.3 L2.3 -22.9 L4.5 -17.6 L8 -25.5 L11.6 -23.8 L13.3 -21.1 L16 -21.1 L18.3 -27.6 L20.4 -22.0 L22.1 -25.5 L24.8 -18.5 L28.3 -20.3 L30.9 -18.5 L32.7 -25.9 L35.3 -22.9 L38.8 -22.4 L42.3 -22.9 L47.6 -22.9 L52.9 -22.9 L55.5 -27.3 L57.3 -17.6 L59.9 -32.6 L62.5 -80.9 L65.2 -81.8 L67.3 -85.3 L69 -69.5 L71.3 -69.5 L76.6 -15.9 L81 -14.1 L84.5 -17.1 L88 -13.2 L91.5 -11.8 L102 -12.4 L114.4 -12.4 L123.2 -11.5 L127.6 -12.4 L130.2 -51.9 L132.3 -56.8 L134.1 -12.4 L140.7 -12.4 L146 -13.6 L149.4 -23.8 L155.5 -22.0 L161.7 -11.5 L167.8 -18.5 L171.4 -26.4 L177.2 -31.7 L182.8 -16.7 L185.4 -27.6 L188.1 -22.0 L191.6 -24.6 L195.1 -30.8 L196.8 -13.2 L202.1 -28.2 L206.5 -28.2 L210 -22.0 L216.2 -19.4 L222.3 -26.4 L228.5 -48.7 L232 -16.7 L236.4 -15.0 L239.9 -4.4 L241.7 -18.5 L246 -16.7 L247.8 -3.6 L250.1 -15.9 L252.6 -5.8 L255.7 -3.6 L259.8 -47.0 L261.3 -8.0 L264.2 -17.6 L266.6 -6.2 L271.5 -21.1 L275.9 -12.4 L278.6 -14.1 L281.2 -33.4 L283.8 -19.4 L287.4 -11.5 L292.6 -21.1 L297.9 -21.1 L300.9 -25.5 L303.2 -13.2 L305.8 -23.8 L308.4 -13.2 L311.1 -22.0 L315.5 -20.3 L320.7 -15.9 L322.5 -25.5 L326 -33.4 L328.7 -23.8 L332.2 -20.3 L334 -27.6 L339.2 -27.6 L341.8 -30.8 L344.5 -18.5 L346.2 -27.3 L350.3 -32.9"/>
 <clipPath id="c1"><rect x="900" y="370" width="370" height="102.8"/></clipPath>
 <clipPath id="c2"><rect x="1300" y="370" width="140" height="102.8"/></clipPath>
 <path id="la" d="M0.1 -20.3 L2.3 -22.9 L4.5 -17.6 L8 -25.5 L11.6 -23.8 L13.3 -21.1 L16 -21.1 L18.3 -27.6 L20.4 -22.0 L22.1 -25.5 L24.8 -18.5 L28.3 -20.3 L30.9 -18.5 L32.7 -25.9 L35.3 -22.9 L38.8 -22.4 L42.3 -22.9 L47.6 -22.9 L52.9 -22.9 L55.5 -27.3 L57.3 -17.6 L59.9 -32.6 L62.5 -80.9 L65.2 -81.8 L67.3 -85.3 L69 -69.5 L71.3 -69.5 L76.6 -15.9 L81 -14.1 L84.5 -17.1 L88 -13.2 L91.5 -11.8 L102 -12.4 L114.4 -12.4 L123.2 -11.5 L127.6 -12.4 L130.2 -51.9 L132.3 -56.8 L134.1 -12.4 L140.7 -12.4 L146 -13.6 L149.4 -23.8 L155.5 -22.0 L161.7 -11.5 L167.8 -18.5 L171.4 -26.4 L177.2 -31.7 L182.8 -16.7 L185.4 -27.6 L188.1 -22.0 L191.6 -24.6 L195.1 -30.8 L196.8 -13.2 L202.1 -28.2 L206.5 -28.2 L210 -22.0 L216.2 -19.4 L222.3 -26.4 L228.5 -48.7 L232 -16.7 L236.4 -15.0 L239.9 -4.4 L241.7 -18.5 L246 -16.7 L247.8 -3.6 L250.1 -15.9 L252.6 -5.8 L255.7 -3.6 L259.8 -47.0 L261.3 -8.0 L264.2 -17.6 L266.6 -6.2 L271.5 -21.1 L275.9 -12.4 L278.6 -14.1 L281.2 -33.4 L283.8 -19.4 L287.4 -11.5 L292.6 -21.1 L297.9 -21.1 L300.9 -25.5 L303.2 -13.2 L305.8 -23.8 L308.4 -13.2 L311.1 -22.0 L315.5 -20.3 L320.7 -15.9 L322.5 -25.5 L326 -33.4 L328.7 -23.8 L332.2 -20.3 L334 -27.6 L339.2 -27.6 L341.8 -30.8 L344.5 -18.5 L346.2 -27.3 L350.3 -32.9 L350.3 0 L0 0 Z"/>
</defs>
<!-- chart1 -->
<g stroke="#38383c" stroke-width="1">
 <path d="M191 211.5 H707 M191 245.5 H707 M191 279.5 H707"/>
</g>
<g fill="#bd2a27"><rect x="195" y="279" width="7" height="34"/><rect x="238" y="296" width="7" height="17"/><rect x="247" y="296" width="7" height="17"/><rect x="281" y="296" width="7" height="17"/><rect x="324" y="296" width="7" height="17"/><rect x="367" y="296" width="7" height="17"/><rect x="410" y="279" width="7" height="34"/><rect x="453" y="296" width="7" height="17"/><rect x="496" y="296" width="7" height="17"/><rect x="504" y="262" width="7" height="51"/><rect x="539" y="228" width="7" height="85"/><rect x="582" y="296" width="7" height="17"/><rect x="625" y="296" width="7" height="17"/><rect x="667" y="296" width="7" height="17"/></g>
<path d="M191 313.5 H707" stroke="#67676b" stroke-width="1"/>
<path d="M280.5 313 v4 M409.5 313 v4 M537.5 313 v4 M666.5 313 v4" stroke="#8a8a8e" stroke-width="1"/>
<g font-size="9" fill="#c4c4c6" text-anchor="end">
 <text x="189" y="214.5">6</text><text x="189" y="248.5">4</text><text x="189" y="282.5">2</text><text x="189" y="316.5">0</text>
</g>
<g font-size="9" fill="#c4c4c6" text-anchor="middle">
 <text x="280.5" y="326.5">18:30</text><text x="409.5" y="326.5">18:45</text><text x="537.5" y="326.5">19:00</text><text x="666.5" y="326.5">19:15</text>
</g>
<!-- logs chart -->
<g stroke="#38383c" stroke-width="1">
 <path d="M915 217.5 H1268 M915 249.5 H1268 M915 281.5 H1268"/>
</g>
<g transform="translate(915 313.4)">
 <use href="#la" fill="#2e77a2"/>
 <use href="#lp" fill="none" stroke="#23a596" stroke-width="1.3"/>
</g>
<path d="M915 313.5 H1268" stroke="#8a7f7c" stroke-width="1"/>
<path d="M975.5 313 v4 M1064.5 313 v4 M1152.5 313 v4 M1240.5 313 v4" stroke="#8a8a8e" stroke-width="1"/>
<g font-size="9" fill="#c4c4c6" text-anchor="end">
 <text x="912" y="220.7">15K</text><text x="912" y="252.7">10K</text><text x="912" y="284.7">5K</text><text x="912" y="316.7">0K</text>
</g>
<g font-size="9" fill="#c4c4c6" text-anchor="middle">
 <text x="975.5" y="326.5">18:30</text><text x="1064.5" y="326.5">18:45</text><text x="1152.5" y="326.5">19:00</text><text x="1240.5" y="326.5">19:15</text>
</g>
<!-- top sources -->
<g stroke="#38383c" stroke-width="1">
 <path d="M916 379.5 H1267 M916 410.5 H1267 M916 441.5 H1267"/>
</g>
<g clip-path="url(#c1)"><g transform="translate(915.8 472.8) scale(1 0.975)">
 <use href="#la" fill="#27a094"/>
 <use href="#la" fill="#75b9ad" transform="translate(0 2)"/>
 <use href="#la" fill="#3e91b6" transform="translate(0 4.5)"/>
 <use href="#la" fill="#1e3f7a" transform="translate(0 7)"/>
 <use href="#la" fill="#a9c5a2" transform="translate(0 9)"/>
</g></g>

<path d="M916 472.5 H1267" stroke="#8a7f7c" stroke-width="1"/>
<path d="M976.5 473 v4 M1064.5 473 v4 M1152.5 473 v4 M1240.5 473 v4" stroke="#8a8a8e" stroke-width="1"/>
<g font-size="9" fill="#c4c4c6" text-anchor="end">
 <text x="913" y="382.5">15K</text><text x="913" y="413.5">10K</text><text x="913" y="445">5K</text><text x="913" y="476">0K</text>
</g>
<g font-size="9" fill="#c4c4c6" text-anchor="middle">
 <text x="976.5" y="486.5">18:30</text><text x="1064.5" y="486.5">18:45</text><text x="1152.5" y="486.5">19:00</text><text x="1240.5" y="486.5">19:15</text>
</g>
<!-- top services -->
<g stroke="#38383c" stroke-width="1">
 <path d="M1315 379.5 H1440 M1315 410.5 H1440 M1315 441.5 H1440"/>
</g>
<g clip-path="url(#c2)"><g transform="translate(1314.8 472.8) scale(1.184 0.975)">
 <use href="#la" fill="#2a9f93"/>
 <use href="#la" fill="#a9c5a2" transform="translate(0 2)"/>
 <use href="#la" fill="#8fbf9f" transform="translate(0 5)"/>
 <use href="#la" fill="#2e78a3" transform="translate(0 8)"/>
</g></g>

<path d="M1315 472.5 H1440" stroke="#8a7f7c" stroke-width="1"/>
<path d="M1386.5 473 v4" stroke="#8a8a8e" stroke-width="1"/>
<g font-size="9" fill="#c4c4c6" text-anchor="end">
 <text x="1312" y="382.5">15K</text><text x="1312" y="413.5">10K</text><text x="1312" y="445">5K</text><text x="1312" y="476">0K</text>
</g>
<g font-size="9" fill="#c4c4c6" text-anchor="middle"><text x="1386.5" y="486.5">18:30</text></g>
</svg>
<!--/CHARTS-->
<div class="a" style="left:1439px;top:0;width:1px;height:797px;background:#3a3a3e"></div>
<div class="a" style="left:0;top:796px;width:1440px;height:1px;background:#3a3a3e"></div>
</body></html>
